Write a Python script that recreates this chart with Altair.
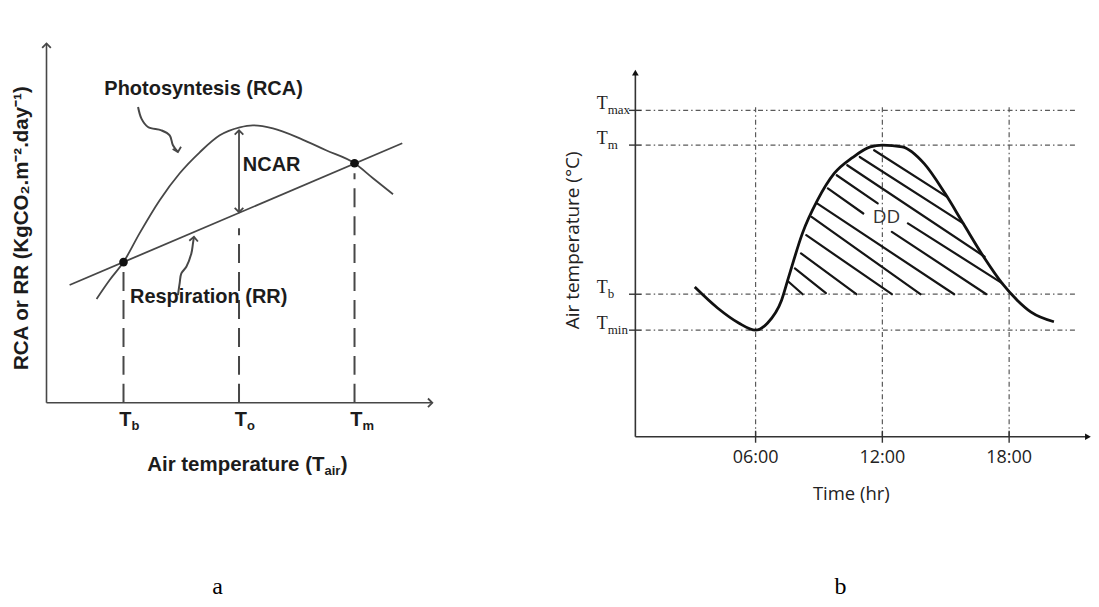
import altair as alt
import pandas as pd

# ---------------- panel a : photosynthesis / respiration vs air temperature ----------------
RCA_TEMP = [6.5, 8.2, 10.0, 12.1, 14.7, 17.3, 19.9, 22.5, 25.1, 26.8, 29.4, 32.9, 36.3, 40.0, 42.4, 45.0]
RCA_RATE = [10.4, 12.3, 14.1, 17.0, 20.3, 23.0, 25.1, 26.8, 27.6, 27.8, 27.5, 26.5, 25.3, 24.0, 22.5, 20.9]
RR_TEMP = [3.0, 46.2]
RR_RATE = [11.8, 26.0]
CARD_TEMP = [10.0, 25.0, 40.0]
CARD_SUB = ["b", "o", "m"]
CARD_DASH_TOP = [13.3, 17.5, 23.0]
CROSS_TEMP = [10.0, 40.0]
CROSS_RATE = [14.1, 24.0]
NCAR_TEMP = 25.0
NCAR_RANGE = [19.1, 27.3]
RCA_ARROW_TEMP = [11.89, 12.33, 13.18, 14.92, 16.0, 16.42, 17.07]
RCA_ARROW_RATE = [29.63, 28.47, 27.63, 27.3, 26.8, 25.8, 25.13]
RR_ARROW_TEMP = [17.07, 17.29, 17.51, 18.16, 18.81, 19.02, 19.15]
RR_ARROW_RATE = [10.8, 11.97, 12.97, 13.63, 14.97, 15.97, 16.63]
AXIS_A_END = [50.1, 36.0]

# ---------------- panel b : diurnal air temperature and degree-days ----------------
HOURS = [3.12, 4.2, 5.2, 6.0, 6.57, 7.23, 7.56, 8.22, 8.93, 9.73, 10.58, 11.43, 12.0,
         12.94, 13.98, 14.97, 15.83, 16.8, 17.67, 18.38, 19.04, 20.12]
AIR_T = [12.5, 10.75, 9.5, 8.9, 9.5, 11.4, 13.3, 17.0, 19.75, 22.0, 23.3, 24.2, 24.35,
         24.2, 22.8, 20.3, 17.8, 15.0, 12.8, 11.4, 10.4, 9.6]
T_NAMES = ["max", "m", "b", "min"]
T_VALUES = [27.25, 24.35, 11.9, 8.9]
TICK_HOURS = [6, 12, 18]
TICK_LABELS = ["06:00", "12:00", "18:00"]
HATCH_H1 = [7.56, 7.86, 8.15, 8.40, 8.65, 8.91, 9.42, 12.45, 9.84, 13.21, 10.34, 10.93, 11.61]
HATCH_T1 = [12.94, 14.06, 15.31, 16.83, 18.36, 19.48, 20.73, 17.11, 21.83, 17.81, 22.67, 23.36, 23.92]
HATCH_H2 = [8.23, 9.33, 10.77, 12.45, 13.80, 15.40, 11.10, 16.92, 11.78, 17.68, 16.84, 15.83, 15.06]
HATCH_T2 = [11.9, 12.0, 11.9, 11.9, 11.9, 11.9, 18.64, 11.9, 19.48, 12.81, 15.03, 17.81, 20.03]
GUIDE_H = [0.8, 21.2]
GUIDE_T_TOP = 27.5
AXIS_B = {"h0": 0.31, "hmax": 21.73, "tmax": 30.4}

# ---------------- geometry ----------------
WA, WB, H = 532, 551, 588
XA = [-5.0, 63.96]
YA = [-19.3, 39.5]
XB = [-4.25, 21.78]
YB = [-13.25, 35.75]

SANS_A = "Liberation Sans"
SANS_B = "Open Sans"
SERIF = "Liberation Serif"
CHEV = "M-1,1L0,0L1,1"
GA = "#474747"
TXA = "#1c1c1c"


def enc(xd, yd):
    def X(f):
        return alt.X(f, type="quantitative", scale=alt.Scale(domain=xd, nice=False, zero=False), axis=None)

    def Y(f):
        return alt.Y(f, type="quantitative", scale=alt.Scale(domain=yd, nice=False, zero=False), axis=None)
    return X, Y


XAe, YAe = enc(XA, YA)
XBe, YBe = enc(XB, YB)


def text_layer(df, X, Y, **kw):
    return alt.Chart(df).mark_text(**kw).encode(x=X("x"), y=Y("y"), text="text:N")


# ======== panel a layers ========
axes_a = pd.DataFrame({"x": [0, 0], "y": [0, 0], "x2": [AXIS_A_END[0], 0], "y2": [0, AXIS_A_END[1]]})
a_axes = alt.Chart(axes_a).mark_rule(color=GA, strokeWidth=1.6).encode(
    x=XAe("x"), y=YAe("y"), x2="x2", y2="y2")

chev_a = pd.DataFrame({
    "x": [AXIS_A_END[0], 0, NCAR_TEMP, NCAR_TEMP, RCA_ARROW_TEMP[-1], RR_ARROW_TEMP[-1]],
    "y": [0, AXIS_A_END[1], NCAR_RANGE[1], NCAR_RANGE[0], RCA_ARROW_RATE[-1], RR_ARROW_RATE[-1]],
    "ang": [90, 0, 0, 180, 165, 5],
})
a_chev = alt.Chart(chev_a).mark_point(shape=CHEV, filled=False, size=75, strokeWidth=1.8,
                                      color=GA, opacity=1).encode(
    x=XAe("x"), y=YAe("y"), angle=alt.Angle("ang:Q", scale=None))

dash_df = pd.DataFrame({"x": CARD_TEMP, "y": [0] * 3, "y2": CARD_DASH_TOP})
a_dash = alt.Chart(dash_df).mark_rule(color=GA, strokeWidth=2, strokeDash=[19, 9]).encode(
    x=XAe("x"), y=YAe("y"), y2="y2")

rr_df = pd.DataFrame({"x": RR_TEMP, "y": RR_RATE})
a_rr = alt.Chart(rr_df).mark_line(color=GA, strokeWidth=1.8).encode(x=XAe("x"), y=YAe("y"))

rca_df = pd.DataFrame({"x": RCA_TEMP, "y": RCA_RATE})
a_rca = alt.Chart(rca_df).mark_line(color=GA, strokeWidth=1.8, interpolate="monotone").encode(
    x=XAe("x"), y=YAe("y"))

cross_df = pd.DataFrame({"x": CROSS_TEMP, "y": CROSS_RATE})
a_cross = alt.Chart(cross_df).mark_circle(color="#111", size=75, opacity=1).encode(
    x=XAe("x"), y=YAe("y"))

ncar_df = pd.DataFrame({"x": [NCAR_TEMP], "y": [NCAR_RANGE[0]], "y2": [NCAR_RANGE[1]]})
a_ncar = alt.Chart(ncar_df).mark_rule(color=GA, strokeWidth=1.8).encode(
    x=XAe("x"), y=YAe("y"), y2="y2")

curly_df = pd.DataFrame({
    "x": RCA_ARROW_TEMP + RR_ARROW_TEMP,
    "y": RCA_ARROW_RATE + RR_ARROW_RATE,
    "g": ["p"] * len(RCA_ARROW_TEMP) + ["r"] * len(RR_ARROW_TEMP),
    "i": list(range(len(RCA_ARROW_TEMP))) + list(range(len(RR_ARROW_TEMP))),
})
a_curly = alt.Chart(curly_df).mark_line(color=GA, strokeWidth=2, interpolate="catmull-rom").encode(
    x=XAe("x"), y=YAe("y"), detail="g:N", order="i:Q")

lab_center = pd.DataFrame({"x": [20.4, 21.06], "y": [31.4, 10.6],
                           "text": ["Photosyntesis (RCA)", "Respiration (RR)"]})
a_lab1 = text_layer(lab_center, XAe, YAe, font=SANS_A, fontSize=20, fontWeight="bold",
                    color=TXA, align="center", baseline="middle")
a_lab2 = text_layer(pd.DataFrame({"x": [25.5], "y": [23.8], "text": ["NCAR"]}), XAe, YAe,
                    font=SANS_A, fontSize=20, fontWeight="bold", color=TXA, align="left",
                    baseline="middle")

tick_T = pd.DataFrame({"x": CARD_TEMP, "y": [-1.7] * 3, "text": ["T"] * 3})
a_tT = text_layer(tick_T, XAe, YAe, font=SANS_A, fontSize=20, fontWeight="bold", color=TXA,
                  align="right", baseline="middle", dx=8)
tick_s = pd.DataFrame({"x": CARD_TEMP, "y": [-1.7] * 3, "text": CARD_SUB})
a_tS = text_layer(tick_s, XAe, YAe, font=SANS_A, fontSize=13, fontWeight="bold", color=TXA,
                  align="left", baseline="middle", dx=8, dy=6)

xt_main = pd.DataFrame({"x": [36.1, 38.2], "y": [-6.2, -6.2], "text": ["Air temperature (T", ")"]})
a_xt1 = text_layer(xt_main.iloc[[0]], XAe, YAe, font=SANS_A, fontSize=20.5, fontWeight="bold",
                   color=TXA, align="right", baseline="middle")
a_xt2 = text_layer(xt_main.iloc[[1]], XAe, YAe, font=SANS_A, fontSize=20.5, fontWeight="bold",
                   color=TXA, align="left", baseline="middle")
a_xt3 = text_layer(pd.DataFrame({"x": [36.1], "y": [-6.2], "text": ["air"]}), XAe, YAe,
                   font=SANS_A, fontSize=13, fontWeight="bold", color=TXA, align="left",
                   baseline="middle", dy=6)
a_yt = text_layer(pd.DataFrame({"x": [-3.19], "y": [17.5], "text": ["RCA or RR (KgCO\u2082.m\u207b\u00b2.day\u207b\u00b9)"]}),
                  XAe, YAe, font=SANS_A, fontSize=20.5, fontWeight="bold", color=TXA,
                  align="center", baseline="middle", angle=270)
a_tag = text_layer(pd.DataFrame({"x": [22.2], "y": [-19.2], "text": ["a"]}), XAe, YAe,
                   font=SERIF, fontSize=24, color="#000", align="center", baseline="alphabetic")

panel_a = alt.layer(a_axes, a_dash, a_rr, a_rca, a_ncar, a_curly, a_chev, a_cross,
                    a_lab1, a_lab2, a_tT, a_tS, a_xt1, a_xt2, a_xt3, a_yt, a_tag
                    ).properties(width=WA, height=H)

# ======== panel b layers ========
GB = "#5a5a5a"
hguide = pd.DataFrame({"x": [GUIDE_H[0]] * 4, "x2": [GUIDE_H[1]] * 4, "y": T_VALUES})
b_hg = alt.Chart(hguide).mark_rule(color=GB, strokeWidth=1.2, strokeDash=[5, 3, 1.5, 3]).encode(
    x=XBe("x"), x2="x2", y=YBe("y"))
vguide = pd.DataFrame({"x": TICK_HOURS, "y": [0] * 3, "y2": [GUIDE_T_TOP] * 3})
b_vg = alt.Chart(vguide).mark_rule(color=GB, strokeWidth=1.2, strokeDash=[5, 3, 1.5, 3]).encode(
    x=XBe("x"), y=YBe("y"), y2="y2")

axes_b = pd.DataFrame({"x": [AXIS_B["h0"], AXIS_B["h0"]], "y": [0, 0],
                       "x2": [AXIS_B["hmax"], AXIS_B["h0"]], "y2": [0, AXIS_B["tmax"]]})
b_axes = alt.Chart(axes_b).mark_rule(color="#333", strokeWidth=1.6).encode(
    x=XBe("x"), y=YBe("y"), x2="x2", y2="y2")
xt_df = pd.DataFrame({"x": TICK_HOURS, "y": [-0.5] * 3, "y2": [0.5] * 3})
b_xt = alt.Chart(xt_df).mark_rule(color="#333", strokeWidth=1.4).encode(
    x=XBe("x"), y=YBe("y"), y2="y2")
yt_df = pd.DataFrame({"x": [AXIS_B["h0"] - 0.3] * 4, "x2": [AXIS_B["h0"] + 0.3] * 4, "y": T_VALUES})
b_yt = alt.Chart(yt_df).mark_rule(color="#333", strokeWidth=1.4).encode(
    x=XBe("x"), x2="x2", y=YBe("y"))
tri_df = pd.DataFrame({"x": [AXIS_B["hmax"], AXIS_B["h0"]], "y": [0, AXIS_B["tmax"]], "ang": [90, 0]})
b_tri = alt.Chart(tri_df).mark_point(shape="triangle-up", filled=True, size=45, color="#111",
                                     opacity=1).encode(
    x=XBe("x"), y=YBe("y"), angle=alt.Angle("ang:Q", scale=None))

hatch = pd.DataFrame({"x": HATCH_H1, "y": HATCH_T1, "x2": HATCH_H2, "y2": HATCH_T2})
b_hatch = alt.Chart(hatch).mark_rule(color="#151515", strokeWidth=2.2, strokeCap="round").encode(
    x=XBe("x"), y=YBe("y"), x2="x2", y2="y2")

curve = pd.DataFrame({"x": HOURS, "y": AIR_T})
b_curve = alt.Chart(curve).mark_line(color="#111", strokeWidth=2.8, interpolate="monotone").encode(
    x=XBe("x"), y=YBe("y"))

tl = pd.DataFrame({"x": TICK_HOURS, "y": [-1.75] * 3, "text": TICK_LABELS})
b_tl = text_layer(tl, XBe, YBe, font=SANS_B, fontSize=18, color="#222", align="center",
                  baseline="middle")
b_xtitle = text_layer(pd.DataFrame({"x": [10.53], "y": [-4.75], "text": ["Time (hr)"]}), XBe, YBe,
                      font=SANS_B, fontSize=18.5, color="#222", align="center", baseline="middle")
b_ytitle = text_layer(pd.DataFrame({"x": [-2.64], "y": [16.4], "text": ["Air temperature (\u00b0C)"]}),
                      XBe, YBe, font=SANS_B, fontSize=19, color="#222", align="center",
                      baseline="middle", angle=270)
b_dd = text_layer(pd.DataFrame({"x": [12.19], "y": [18.33], "text": ["DD"]}), XBe, YBe,
                  font=SANS_B, fontSize=19, color="#333", align="center", baseline="middle")
tT = pd.DataFrame({"x": [-1.0] * 4, "y": T_VALUES, "text": ["T"] * 4})
b_tT = text_layer(tT, XBe, YBe, font=SERIF, fontSize=18, color="#222", align="right",
                  baseline="alphabetic", dy=-1)
tS = pd.DataFrame({"x": [-1.0] * 4, "y": T_VALUES, "text": T_NAMES})
b_tS = text_layer(tS, XBe, YBe, font=SERIF, fontSize=13, color="#222", align="left",
                  baseline="alphabetic", dy=4)
b_tag = text_layer(pd.DataFrame({"x": [10.02], "y": [-13.1], "text": ["b"]}), XBe, YBe,
                   font=SERIF, fontSize=24, color="#000", align="center", baseline="alphabetic")

panel_b = alt.layer(b_hg, b_vg, b_hatch, b_curve, b_axes, b_xt, b_yt, b_tri,
                    b_tl, b_xtitle, b_ytitle, b_dd, b_tT, b_tS, b_tag
                    ).properties(width=WB, height=H)

chart = alt.hconcat(panel_a, panel_b, spacing=0, bounds="flush").resolve_scale(
    x="independent", y="independent").properties(padding=0).configure_view(stroke=None)

chart.save("out.html", embed_options={"renderer": "svg", "actions": False})
